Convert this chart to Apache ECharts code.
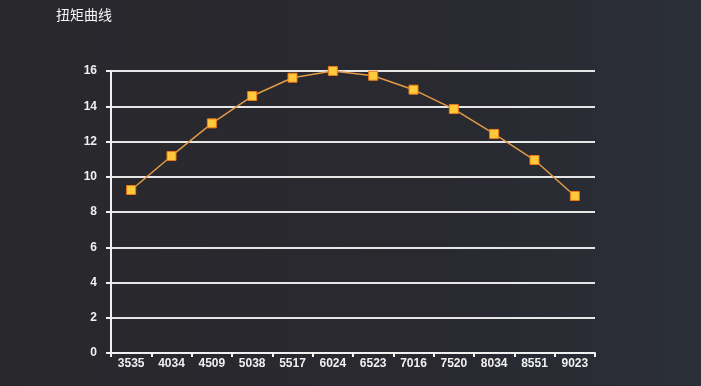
<!DOCTYPE html>
<html><head><meta charset="utf-8">
<script src="https://cdn.jsdelivr.net/npm/echarts@6/dist/echarts.min.js"></script>
<style>html,body{margin:0;padding:0;}#c{width:701px;height:386px;}</style>
</head><body><div id="c"></div>
<script>
const titleText = '扭矩曲线';
const categories = ['3535','4034','4509','5038','5517','6024','6523','7016','7520','8034','8551','9023'];
const torque = [9.25, 11.18, 13.03, 14.58, 15.62, 16.0, 15.73, 14.94, 13.84, 12.43, 10.95, 8.91];
const yTicks = {min: 0, max: 16, interval: 2};

const chart = echarts.init(document.getElementById('c'));
chart.setOption({
  backgroundColor: new echarts.graphic.LinearGradient(0,0,1,0,[
    {offset:0,color:'#28282d'},{offset:0.6,color:'#29292f'},{offset:1,color:'#2b2f38'}]),
  animation: false,
  title: {text: titleText, left: 51, top: 3, textStyle: {color:'#f7f7f7', fontSize: 14, fontWeight: 'normal', fontFamily: 'Noto Sans CJK SC'}},
  grid: {left: 111, right: 106, top: 71, bottom: 33},
  xAxis: {
    type: 'category', data: categories, boundaryGap: true,
    axisLine: {lineStyle: {color: '#f0f0f0', width: 2}},
    axisTick: {show: true, length: 4, lineStyle: {color:'#f0f0f0', width: 2}},
    axisLabel: {color: '#f0f0f0', fontSize: 12, fontWeight: 'bold', fontFamily: 'Liberation Sans', margin: 5},
    splitLine: {show: false}
  },
  yAxis: {
    type: 'value', min: yTicks.min, max: yTicks.max, interval: yTicks.interval,
    axisLine: {show: true, lineStyle: {color: '#f0f0f0', width: 2}},
    axisTick: {show: true, length: 5, lineStyle: {color:'#f0f0f0', width: 2}},
    axisLabel: {color: '#f0f0f0', fontSize: 12, fontWeight: 'bold', fontFamily: 'Liberation Sans', margin: 14},
    splitLine: {show: true, lineStyle: {color: '#e6e6e6', width: 2}}
  },
  series: [{
    type: 'line', data: torque,
    symbol: 'rect', symbolSize: 9,
    lineStyle: {color: '#e39a45', width: 1.5},
    itemStyle: {color: '#ffc93c', borderColor: '#f07a1a', borderWidth: 1}
  }]
});
</script></body></html>
